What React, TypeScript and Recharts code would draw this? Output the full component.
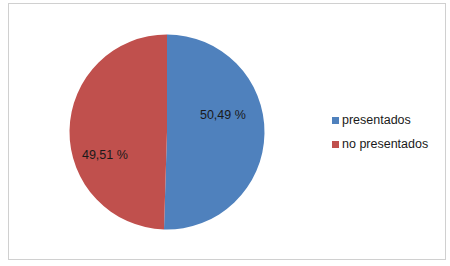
import React from 'react';
import { PieChart, Pie, Cell, Legend } from 'recharts';

const categories = ['presentados', 'no presentados'];
const values = [50.49, 49.51];
const colors = ['#4F81BD', '#C0504D'];

const data = categories.map((name, i) => ({ name, value: values[i] }));

// label placement (style): angle offset in degrees and radius fraction per slice
const labelAngleOffset = [18, 21.4];
const labelRadiusFrac = [0.6, 0.68];

const RAD = Math.PI / 180;

const renderLabel = (props: any) => {
  const { cx, cy, midAngle, outerRadius, value, index } = props;
  const a = (midAngle + labelAngleOffset[index]) * RAD;
  const r = outerRadius * labelRadiusFrac[index];
  const x = cx + r * Math.cos(a);
  const y = cy - r * Math.sin(a);
  return (
    <text x={x} y={y} textAnchor="middle" dominantBaseline="central" fill="#1a1a1a"
      fontFamily="Liberation Sans, Arial, sans-serif" fontSize={12.5}>
      {value.toFixed(2).replace('.', ',')} %
    </text>
  );
};

const LegendContent = () => {
  return (
    <div style={{ fontFamily: 'Liberation Sans, Arial, sans-serif', fontSize: 12.5, color: '#1a1a1a' }}>
      {categories.map((c, i) => (
        <div key={c} style={{ display: 'flex', alignItems: 'center', height: 24 }}>
          <span style={{ display: 'inline-block', width: 7, height: 7, background: colors[i], marginRight: 3 }} />
          <span>{c}</span>
        </div>
      ))}
    </div>
  );
};

export default function App() {
  return (
    <div style={{ position: 'absolute', left: 0, top: 0, width: 450, height: 266, background: '#fff' }}>
      <div style={{ position: 'absolute', left: 8, top: 3, width: 436, height: 255, border: '1px solid #d0d0d0' }} />
      <div style={{ position: 'absolute', left: 0, top: 0 }}>
        <PieChart width={450} height={266} margin={{ top: 0, right: 0, bottom: 0, left: 0 }}>
          <Pie
            data={data}
            dataKey="value"
            nameKey="name"
            cx={167}
            cy={132}
            outerRadius={97.5}
            startAngle={90}
            endAngle={-270}
            stroke="none"
            label={renderLabel}
            labelLine={false}
            isAnimationActive={false}
          >
            {data.map((d, i) => (
              <Cell key={d.name} fill={colors[i]} />
            ))}
          </Pie>
          <Legend
            layout="vertical"
            content={<LegendContent />}
            wrapperStyle={{ left: 332, top: 108, width: 110 }}
          />
        </PieChart>
      </div>
    </div>
  );
}
